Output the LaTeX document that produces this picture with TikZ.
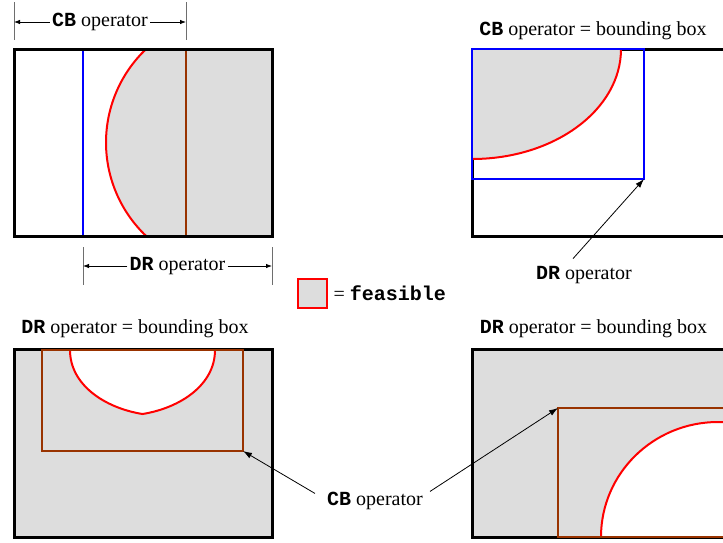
\documentclass[tikz,border=0pt]{standalone}
\usepackage{fontspec}
\setmainfont{Liberation Serif}
\setmonofont{Liberation Mono}
\usetikzlibrary{arrows.meta}
\definecolor{feas}{RGB}{221,221,221}
\definecolor{brn}{RGB}{153,51,0}
\definecolor{tickgray}{RGB}{110,110,110}
\newcommand{\tb}[1]{\textbf{\texttt{#1}}}
\tikzset{
  frame/.style={draw=black, line width=3pt},
  redline/.style={draw=red, line width=2pt},
  blueline/.style={draw=blue, line width=2pt},
  brnline/.style={draw=brn, line width=2pt},
  tickline/.style={draw=tickgray, line width=0.9pt},
  dimarrow/.style={draw=black, line width=0.8pt, -{Latex[length=6pt,width=4.5pt]}},
  callout/.style={draw=black, line width=0.8pt, -{Latex[length=9pt,width=6pt]}},
  lbl/.style={font=\fontsize{20}{24}\selectfont, inner sep=2pt},
}
\begin{document}
\begin{tikzpicture}[x=1pt,y=-1pt]
\useasboundingbox (0,0) rectangle (723,542);
\clip (0,0) rectangle (723,542);

% ---------------- top-left panel ----------------
\fill[feas] (272,49) -- (272,236) --
  plot[domain=46.45:-46.45, samples=60] ({235-129*cos(\x)},{142.5+129*sin(\x)}) -- cycle;
\draw[redline] plot[domain=-46.45:46.45, samples=60] ({235-129*cos(\x)},{142.5+129*sin(\x)});
\draw[blueline] (83,49) -- (83,236);
\draw[brnline] (186,49) -- (186,236);
\draw[frame] (14,49) rectangle (272,236);

% CB dimension
\coordinate (cbTa) at (14,2);   \coordinate (cbTb) at (14,40);
\coordinate (cbUa) at (186,2);  \coordinate (cbUb) at (186,40);
\draw[tickline] (cbTa) -- (cbTb);
\draw[tickline] (cbUa) -- (cbUb);
\coordinate (cbL) at (14,22);
\coordinate (cbR) at (186,22);
\node[lbl] (cbdim) at (100,22) {\tb{CB} operator};
\draw[dimarrow] (cbdim) -- (cbL);
\draw[dimarrow] (cbdim) -- (cbR);

% DR dimension
\coordinate (drTa) at (83,247);  \coordinate (drTb) at (83,285);
\coordinate (drUa) at (272,247); \coordinate (drUb) at (272,285);
\draw[tickline] (drTa) -- (drTb);
\draw[tickline] (drUa) -- (drUb);
\coordinate (drL) at (83,266);
\coordinate (drR) at (272,266);
\node[lbl] (drdim) at (177.5,266) {\tb{DR} operator};
\draw[dimarrow] (drdim) -- (drL);
\draw[dimarrow] (drdim) -- (drR);

% ---------------- top-right panel ----------------
\draw[frame] (472,49) rectangle (760,236);
\fill[feas] (472,49) -- (621,49)
  .. controls (621,109.75) and (554.3,159) .. (472,159) -- cycle;
\draw[redline] (621,49) .. controls (621,109.75) and (554.3,159) .. (472,159);
\draw[blueline] (472,49) rectangle (644,179);
\coordinate (bluecorner) at (644,179);
\node[lbl, anchor=base] (trtitle) at (593,35) {\tb{CB} operator = bounding box};
\node[lbl, anchor=base] (drlab) at (584,279) {\tb{DR} operator};
\draw[callout] ([xshift=-11pt,yshift=5pt]drlab.north) -- (bluecorner);

% ---------------- legend ----------------
\node[draw=red, line width=2pt, fill=feas, minimum width=29pt, minimum height=29pt,
  inner sep=0pt] (legbox) at (312,293) {};
\node[lbl, anchor=west] (legtext) at ([xshift=4pt]legbox.east) {= \tb{feasible}};

% ---------------- bottom-left panel ----------------
\fill[feas] (14,349) rectangle (272,537);
\fill[white] (70,350) .. controls (70,385) and (105,408) .. (142.5,414)
  .. controls (180,408) and (215,385) .. (215,350) -- cycle;
\draw[redline] (70,350) .. controls (70,385) and (105,408) .. (142.5,414)
  .. controls (180,408) and (215,385) .. (215,350);
\draw[frame] (14,349) rectangle (272,537);
\draw[brnline] (42,350) rectangle (243,451);
\coordinate (brncornerA) at (243,451);
\node[lbl, anchor=base] (bltitle) at (135,333) {\tb{DR} operator = bounding box};

% ---------------- bottom-right panel ----------------
\fill[feas] (472,349) rectangle (760,537);
\fill[white] (601,537) .. controls (601,473.5) and (653.4,422) .. (718,422)
  -- (760,422) -- (760,537) -- cycle;
\draw[redline] (601,537) .. controls (601,473.5) and (653.4,422) .. (718,422) -- (760,422);
\draw[frame] (472,349) rectangle (760,537);
\draw[brnline] (558,408) rectangle (760,537);
\coordinate (brncornerB) at (558,408);
\node[lbl, anchor=base] (brtitle) at (593.5,333) {\tb{DR} operator = bounding box};

% ---------------- CB callout ----------------
\node[lbl, anchor=base] (cblab) at (375,505) {\tb{CB} operator};
\draw[callout] ([xshift=-10pt,yshift=7pt]cblab.west) -- (brncornerA);
\draw[callout] ([xshift=5pt,yshift=9pt]cblab.east) -- (brncornerB);
\end{tikzpicture}
\end{document}
